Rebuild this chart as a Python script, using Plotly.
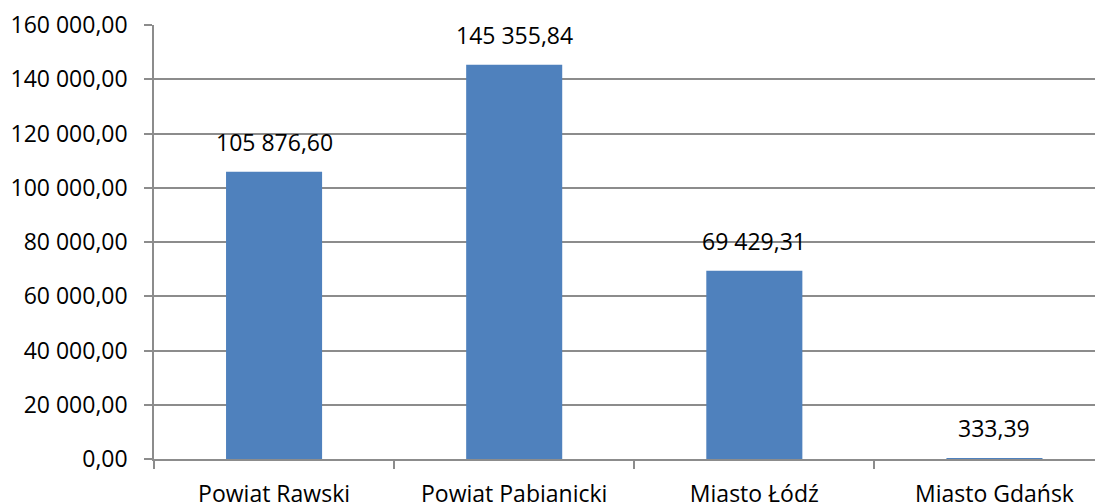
import plotly.graph_objects as go

categories = ["Powiat Rawski", "Powiat Pabianicki", "Miasto Łódź", "Miasto Gdańsk"]
values = [105876.60, 145355.84, 69429.31, 333.39]

def fmt_pl(v):
    s = f"{v:,.2f}"
    return s.replace(",", " ").replace(".", ",")

FONT = "Open Sans"
GRID = "#8c8c8c"
FS = 23

fig = go.Figure()
fig.add_trace(go.Bar(
    x=categories, y=values, width=0.4,
    marker=dict(color="#4F81BD", line=dict(width=0)),
    hoverinfo="skip",
))

for c, v in zip(categories, values):
    fig.add_annotation(x=c, y=v, text=fmt_pl(v), showarrow=False,
                       yanchor="bottom", yshift=12,
                       font=dict(family=FONT, size=FS, color="#000000"))

fig.update_layout(
    width=1095, height=495,
    margin=dict(l=146, r=0, t=17, b=44, autoexpand=False),
    paper_bgcolor="white", plot_bgcolor="white",
    separators=", ",
    showlegend=False,
    font=dict(family=FONT, size=FS, color="#000000"),
)
fig.update_xaxes(
    type="category", range=[-0.5, 3.452], automargin=False,
    showgrid=False, showline=True, linecolor=GRID, linewidth=1.5,
    ticks="outside", tickson="boundaries", ticklen=8, tickcolor=GRID, tickwidth=1.5,
    ticklabelstandoff=14,
    tickfont=dict(family=FONT, size=FS, color="#000000"),
)
fig.update_yaxes(
    range=[0, 160000], dtick=20000, tickformat=",.2f", automargin=False,
    showgrid=True, gridcolor=GRID, gridwidth=1.5,
    showline=True, linecolor=GRID, linewidth=1.5,
    ticks="outside", ticklen=8, tickcolor=GRID, tickwidth=1.5,
    ticklabelstandoff=12, zeroline=False,
    tickfont=dict(family=FONT, size=FS, color="#000000"),
)

fig.write_html("out.html")
